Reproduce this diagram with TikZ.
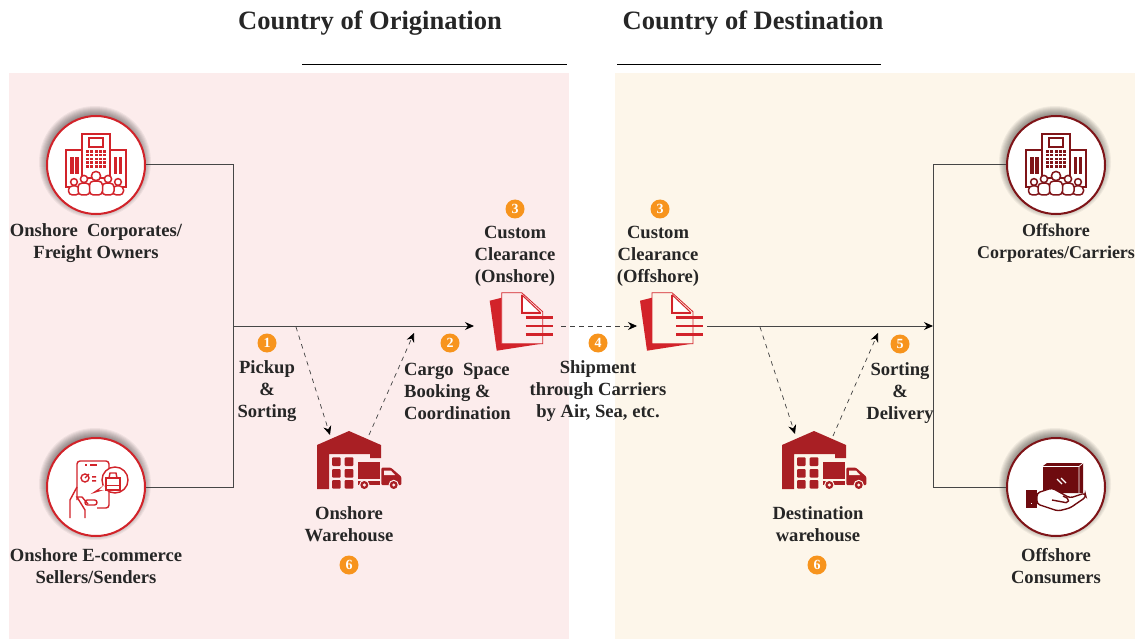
\documentclass[tikz,border=0pt]{standalone}
\usepackage{fontspec}
\setmainfont{Liberation Serif}
\usetikzlibrary{arrows.meta, positioning, calc}
\definecolor{OnshoreBg}{RGB}{252,236,236}
\definecolor{OffshoreBg}{RGB}{253,246,234}
\definecolor{RingRed}{RGB}{210,35,42}
\definecolor{RingDark}{RGB}{127,20,24}
\definecolor{ShedRed}{RGB}{169,31,36}
\definecolor{DarkBox}{RGB}{110,11,15}
\definecolor{BadgeOrange}{RGB}{247,148,29}
\definecolor{TextDark}{RGB}{38,38,38}
\definecolor{LineDark}{RGB}{70,70,70}
\tikzset{
  ring/.style={circle, draw=#1, line width=2pt, fill=white, minimum size=98pt, inner sep=0pt},
  label/.style={font=\fontsize{18.6}{22}\selectfont\bfseries, text=TextDark, align=center, inner sep=0pt},
  heading/.style={font=\fontsize{26.5}{30}\selectfont\bfseries, text=TextDark, inner sep=0pt},
  badge/.style={circle, fill=BadgeOrange, text=white, minimum size=19pt, inner sep=0pt, font=\fontsize{14}{14}\selectfont\bfseries},
  solidline/.style={draw=LineDark, line width=1pt},
  flowline/.style={solidline, -{Stealth[black, length=9pt, width=8pt]}},
  dashline/.style={draw=black!75, line width=0.7pt, dash pattern=on 4.5pt off 4.5pt, -{Stealth[black, length=9pt, width=8pt]}},
  pics/halo/.style={code={
    \foreach \r in {44,45,...,56}
      \fill[black, opacity=0.05] (-1,-3) circle[radius=\r pt];
  }},
  pics/building/.style={code={
    \draw[#1, line width=1.6pt, fill=white] (-30,-15) rectangle (30,22);
    \draw[#1, line width=1.6pt, fill=white] (-14,-31) rectangle (14,13);
    \draw[#1, line width=1.6pt] (-7,-27) rectangle (7,-18);
    \foreach \i in {0,...,4} \foreach \j in {0,...,4}
      \fill[#1] ({-10+4.3*\i},{-15+3.8*\j}) rectangle +(3,2.7);
    \foreach \x in {-26,-21,17.5,22.5}
      \fill[#1] (\x,-8) rectangle +(3.5,17);
    \foreach \x/\h/\r/\w in {-22/17/3.4/5.5, 22/17/3.4/5.5, -12/14/3.6/6, 12/14/3.6/6, 0/11/4.6/6.5} {
      \draw[#1, line width=1.5pt, fill=white, rounded corners=4pt]
        ({\x-\w},30) -- ({\x-\w},{\h+\r+0.5}) -- ({\x+\w},{\h+\r+0.5}) -- ({\x+\w},30) -- cycle;
      \draw[#1, line width=1.5pt, fill=white] (\x,\h) circle[radius=\r pt];
    }
  }},
  pics/phone/.style={code={
    \draw[#1, line width=1.4pt, rounded corners=3pt] (-19,13) -- (-19,-26) -- (13,-26) -- (13,21) -- (1,21);
    \draw[#1, line width=1.7pt] (-11,-22) -- (-9,-22) (-6,-22) -- (1,-22);
    \draw[#1, line width=1.4pt] (-11,-9) circle[radius=4pt];
    \draw[#1, line width=1.4pt] (-11,-9) -- (-7,-13);
    \fill[#1] (-4,-11) rectangle (0,-9.5) (-4,-7) rectangle (0,-5.5);
    \draw[#1, line width=1.4pt, fill=white] (19,-7) circle[radius=13pt];
    \draw[#1, line width=1.4pt, fill=white] (8,-1) -- (-1,5) -- (9,2);
    \fill[white] (8,-2) -- (3,3) -- (10,3) -- cycle;
    \draw[#1, line width=1.6pt] (10,-9) rectangle (24,3) (10,-1.5) -- (24,-1.5);
    \draw[#1, line width=1.4pt] (13,-9) -- (14,-14) -- (20,-14) -- (21,-9);
    \draw[#1, line width=1.4pt, fill=white, rounded corners=2.4pt] (-11,13) rectangle (1,18);
    \draw[#1, line width=1.4pt] (-26,31) -- (-26,13) -- (-19,0);
    \draw[#1, line width=1.4pt] (-11,31) -- (-11,23) -- (-19,10) -- (-14,10) -- (-8,17);
  }},
  pics/shed/.style={code={
    \fill[ShedRed] (-32,-16) -- (0,-30) -- (32,-16) -- (32,-3) -- (21,-3) -- (21,-7) -- (-20,-7) -- (-20,28) -- (-32,28) -- cycle;
    \foreach \x in {-17,-4.3} \foreach \y in {-3.7,8,19}
      \fill[ShedRed, rounded corners=1pt] (\x,\y) rectangle +(8.7,8.7);
    \fill[ShedRed] (8.7,1) rectangle (31.3,18);
    \fill[ShedRed] (8.7,19.5) rectangle (31.3,24);
    \fill[ShedRed, rounded corners=1pt] (32.3,6.7) -- (42,6.7) -- (52.3,15.7) -- (52.3,24) -- (32.3,24) -- cycle;
    \fill[#1] (35,9.7) -- (42,9.7) -- (46,14) -- (35,14) -- cycle;
    \foreach \x in {15.3,44.7} {
      \fill[#1] (\x,24) circle[radius=5.2pt];
      \fill[ShedRed] (\x,24) circle[radius=4pt];
      \fill[#1] (\x,24) circle[radius=1.7pt];
    }
  }},
  pics/docpage/.style={code={
    \fill[RingRed] (-32,-21) -- (-20,-24) -- (-20,22) -- (20,22) -- (-25,29) -- cycle;
    \draw[RingRed, line width=0.8pt, fill=#1] (-20,-29) -- (0,-29) -- (21,-10) -- (21,22) -- (-20,22) -- cycle;
    \draw[RingRed, line width=1.8pt] (0,-27) -- (0,-9) -- (19,-9);
    \fill[white] (1.5,-24) -- (1.5,-10.5) -- (16,-10.5) -- cycle;
    \draw[RingRed, line width=1pt] (0,-27) -- (19,-9);
    \foreach \y in {-4,4.3,12.7}
      \draw[RingRed, line width=2.6pt] (4,\y) -- (31,\y);
  }},
  pics/handbox/.style={code={
    \fill[#1] (-13,-21) -- (-9,-24) -- (27,-24) -- (27,6) -- (-13,6) -- cycle;
    \draw[white, line width=0.7pt] (-13,-20.5) -- (23,-20.5) -- (27,-24) (23,-20.5) -- (23,6);
    \draw[white, line width=1.1pt] (1,-8) -- (6,-3) (5,-9) -- (10,-4) ;
    \draw[#1, line width=1.4pt, fill=white, rounded corners=3pt] (-19,6) -- (-4,1) -- (14,11) -- (29,6) -- (30,10) -- (14,21) -- (2,24) -- (-19,17) -- cycle;
    \draw[#1, line width=1.4pt, rounded corners=2pt] (-4,13) -- (12,16) -- (13,12) -- (7,9);
    \fill[#1] (-30,3) rectangle (-19,21);
    \fill[white] (-25.5,15.5) rectangle +(1.4,1.4);
  }}
}
\begin{document}
\begin{tikzpicture}[x=1pt,y=-1pt]
\useasboundingbox (0,0) rectangle (1135,639);
\fill[OnshoreBg] (9,73) rectangle (569,639);
\fill[OffshoreBg] (615,73) rectangle (1135,639);
\node[heading] (originTitle) at (370,23.5) {Country of Origination};
\node[heading] (destTitle) at (753,23.5) {Country of Destination};
\coordinate (ruleA) at (302,64.5);
\coordinate (ruleB) at (567,64.5);
\coordinate (ruleC) at (617,64.5);
\coordinate (ruleD) at (881,64.5);
\draw[black, line width=1pt] (ruleA) -- (ruleB);
\draw[black, line width=1pt] (ruleC) -- (ruleD);
\pic at (96,165) {halo};
\pic at (96,487) {halo};
\pic at (1056,165) {halo};
\pic at (1056,487) {halo};
\node[ring=RingRed] (corpOn) at (96,165) {};
\node[ring=RingRed] (sellerOn) at (96,487) {};
\node[ring=RingDark] (corpOff) at (1056,165) {};
\node[ring=RingDark] (consOff) at (1056,487) {};
\pic at (corpOn) {building=RingRed};
\pic at (sellerOn) {phone=RingRed};
\pic at (corpOff) {building=RingDark};
\pic at (consOff) {handbox=DarkBox};
\node[minimum width=84pt, minimum height=58pt] (shedOn) at (349,461) {};
\node[minimum width=84pt, minimum height=58pt] (shedOff) at (814,461) {};
\pic at (shedOn) {shed=OnshoreBg};
\pic at (shedOff) {shed=OffshoreBg};
\node[minimum width=60pt, minimum height=58pt] (docOn) at (521.7,321.7) {};
\node[minimum width=60pt, minimum height=58pt] (docOff) at (672,321.7) {};
\pic at (docOn) {docpage=OnshoreBg};
\pic at (docOff) {docpage=OffshoreBg};
\coordinate (joinOn) at (233,326);
\coordinate (endOn) at (474,326);
\coordinate (dashA) at (296,327);
\coordinate (dashB) at (330,435);
\coordinate (dashC) at (369,435);
\coordinate (dashD) at (414,333);
\coordinate (gapA) at (561,326);
\coordinate (gapB) at (637,326);
\coordinate (startOff) at (707,326);
\coordinate (joinOff) at (933,326);
\coordinate (dashE) at (760,327);
\coordinate (dashF) at (795,434);
\coordinate (dashG) at (833,436);
\coordinate (dashH) at (878,333);
\draw[solidline] (corpOn.east) -| (joinOn);
\draw[solidline] (sellerOn.east) -| (joinOn);
\draw[flowline] (joinOn) -- (endOn);
\draw[dashline] (dashA) -- (dashB);
\draw[dashline] (dashC) -- (dashD);
\draw[dashline] (gapA) -- (gapB);
\draw[flowline] (startOff) -- (joinOff);
\draw[dashline] (dashE) -- (dashF);
\draw[dashline] (dashG) -- (dashH);
\draw[solidline] (corpOff.west) -| (joinOff);
\draw[solidline] (consOff.west) -| (joinOff);
\node[label] (corpOnText) at (96,243.5) {Onshore\ \ Corporates/\\Freight Owners};
\node[label] (sellerOnText) at (96,566) {Onshore E-commerce\\Sellers/Senders};
\node[label, font=\fontsize{18}{22}\selectfont\bfseries] (corpOffText) at (1056,243.5) {Offshore\\Corporates/Carriers};
\node[label] (consOffText) at (1056,566) {Offshore\\Consumers};
\node[label] (clearOnText) at (515,256.5) {Custom\\Clearance\\(Onshore)};
\node[label] (clearOffText) at (658,256.5) {Custom\\Clearance\\(Offshore)};
\node[label] (pickText) at (267,391.5) {Pickup\\\&\\Sorting};
\node[label, align=left, anchor=west] (cargoText) at (404,391) {Cargo\ \ Space\\Booking \&\\Coordination};
\node[label] (shipText) at (598,391) {Shipment\\through Carriers\\by Air, Sea, etc.};
\node[label] (sortText) at (900,393) {Sorting\\\&\\Delivery};
\node[label] (shedOnText) at (349,524.5) {Onshore\\Warehouse};
\node[label] (shedOffText) at (818,524.5) {Destination\\warehouse};
\node[badge] (stepPick) at (267,343) {1};
\node[badge] (stepCargo) at (450,343) {2};
\node[badge] (stepClearOn) at (515,209) {3};
\node[badge] (stepClearOff) at (660,209) {3};
\node[badge] (stepShip) at (598,343) {4};
\node[badge] (stepSort) at (900,344) {5};
\node[badge] (stepShedOn) at (349,565) {6};
\node[badge] (stepShedOff) at (817,565) {6};
\end{tikzpicture}
\end{document}
